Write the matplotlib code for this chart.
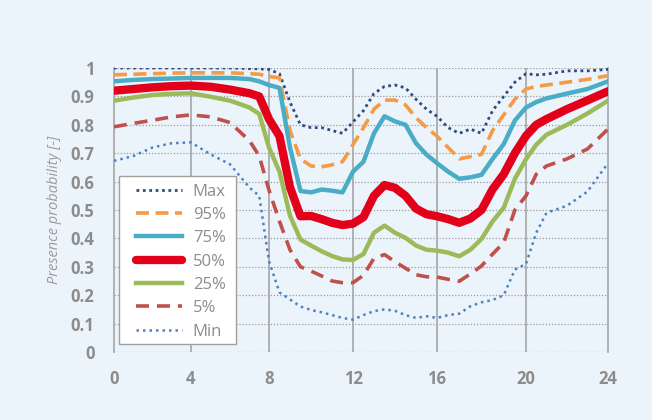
import numpy as np
import matplotlib as mpl
mpl.use('Agg')
import matplotlib.pyplot as plt
from matplotlib.patches import Rectangle

# hour of day
hours = [0, 1, 2, 3, 4, 5, 6, 7, 7.5, 8, 8.5, 9, 9.5, 10, 10.5, 11, 11.5, 12, 12.5,
         13, 13.5, 14, 14.5, 15, 15.5, 16, 16.5, 17, 17.5, 18, 18.5, 19, 19.5, 20,
         20.5, 21, 22, 23, 24]

p_max = [1.0, 1.0, 1.0, 1.0, 1.0, 1.0, 1.0, 0.998, 0.997, 0.995, 0.98, 0.88, 0.80, 0.79,
         0.79, 0.78, 0.77, 0.81, 0.85, 0.91, 0.935, 0.94, 0.93, 0.89, 0.855, 0.83, 0.79,
         0.77, 0.785, 0.77, 0.85, 0.90, 0.95, 0.98, 0.976, 0.978, 0.99, 0.99, 0.995]
p_95 = [0.976, 0.978, 0.98, 0.982, 0.983, 0.983, 0.983, 0.98, 0.978, 0.97, 0.965, 0.78,
        0.68, 0.655, 0.652, 0.659, 0.67, 0.73, 0.79, 0.855, 0.887, 0.887, 0.87, 0.825,
        0.79, 0.76, 0.72, 0.68, 0.688, 0.696, 0.78, 0.835, 0.89, 0.926, 0.935, 0.94,
        0.95, 0.96, 0.973]
p_75 = [0.953, 0.958, 0.961, 0.963, 0.965, 0.965, 0.965, 0.961, 0.953, 0.94, 0.93, 0.72,
        0.567, 0.562, 0.572, 0.568, 0.562, 0.635, 0.67, 0.77, 0.83, 0.812, 0.80, 0.735,
        0.695, 0.665, 0.635, 0.61, 0.615, 0.624, 0.68, 0.732, 0.815, 0.861, 0.88, 0.893,
        0.91, 0.926, 0.953]
p_50 = [0.92, 0.926, 0.932, 0.936, 0.938, 0.934, 0.924, 0.911, 0.90, 0.82, 0.76, 0.58,
        0.478, 0.479, 0.468, 0.455, 0.447, 0.452, 0.475, 0.55, 0.588, 0.578, 0.55, 0.505,
        0.485, 0.478, 0.468, 0.455, 0.47, 0.50, 0.573, 0.626, 0.70, 0.761, 0.80, 0.82,
        0.855, 0.886, 0.918]
p_25 = [0.885, 0.896, 0.905, 0.909, 0.911, 0.899, 0.885, 0.861, 0.838, 0.72, 0.635, 0.48,
        0.396, 0.375, 0.355, 0.338, 0.326, 0.324, 0.345, 0.42, 0.445, 0.42, 0.402, 0.375,
        0.36, 0.357, 0.35, 0.337, 0.36, 0.398, 0.46, 0.508, 0.61, 0.679, 0.73, 0.765,
        0.80, 0.84, 0.885]
p_5 = [0.793, 0.805, 0.816, 0.828, 0.835, 0.828, 0.808, 0.744, 0.69, 0.57, 0.46, 0.36,
       0.30, 0.285, 0.268, 0.25, 0.244, 0.244, 0.27, 0.33, 0.343, 0.318, 0.295, 0.272,
       0.265, 0.264, 0.256, 0.249, 0.275, 0.303, 0.345, 0.385, 0.50, 0.55, 0.626, 0.655,
       0.68, 0.715, 0.785]
p_min = [0.673, 0.69, 0.72, 0.735, 0.738, 0.696, 0.661, 0.579, 0.55, 0.32, 0.21, 0.185,
         0.16, 0.148, 0.14, 0.13, 0.12, 0.114, 0.13, 0.144, 0.15, 0.145, 0.13, 0.12,
         0.126, 0.12, 0.13, 0.135, 0.161, 0.175, 0.183, 0.2, 0.29, 0.31, 0.42, 0.49,
         0.515, 0.565, 0.665]

x_ticks = [0, 4, 8, 12, 16, 20, 24]
y_ticks = [0, 0.1, 0.2, 0.3, 0.4, 0.5, 0.6, 0.7, 0.8, 0.9, 1]
y_ticklabels = ['0', '0.1', '0.2', '0.3', '0.4', '0.5', '0.6', '0.7', '0.8', '0.9', '1']

# the source chart's hour axis is not evenly spaced
tick_pos = [0, 77, 155, 239, 323, 412, 494]

bg = '#ECF4FB'
grey = '#8C8C8C'
W, H = 652, 420

fig = plt.figure(figsize=(6.52, 4.2), dpi=100, facecolor=bg)
ax = fig.add_axes([0.1748, 0.1619, 0.7577, 0.6762])
ax.set_facecolor(bg)

ax.set_xscale('function', functions=(lambda x: np.interp(x, x_ticks, tick_pos),
                                     lambda x: np.interp(x, tick_pos, x_ticks)))

series = [
    ('Max', p_max, dict(color='#2F4B7C', lw=2.0, ls=(0, (1, 1.3)))),
    ('95%', p_95, dict(color='#F79A46', lw=2.6, ls=(0, (3.6, 1.8)))),
    ('75%', p_75, dict(color='#4BACC6', lw=3.2, ls='-')),
    ('50%', p_50, dict(color='#E2001A', lw=6.0, ls='-', solid_capstyle='round')),
    ('25%', p_25, dict(color='#9BBB59', lw=3.2, ls='-')),
    ('5%', p_5, dict(color='#C0504D', lw=2.6, ls=(0, (3.6, 2.2)))),
    ('Min', p_min, dict(color='#4F81BD', lw=1.8, ls=(0, (1, 1.6)))),
]
for name, vals, st in series:
    ax.plot(hours, vals, label=name, zorder=3, **st)

ax.set_xlim(0, 24)
ax.set_ylim(0, 1)
ax.set_xticks(x_ticks)
ax.set_yticks(y_ticks)
ax.set_yticklabels(y_ticklabels)

for y in y_ticks:
    ax.axhline(y, color='#9A9A9A', lw=0.9, ls=(0, (1, 1.5)), zorder=1)
for x in x_ticks[1:-1]:
    ax.axvline(x, color='#A5A5A5', lw=1.2, zorder=1)

for s in ['top', 'bottom']:
    ax.spines[s].set_visible(False)
ax.spines['left'].set_color('#A5A5A5')
ax.spines['right'].set_color('#A5A5A5')
ax.spines['left'].set_linewidth(1.2)
ax.spines['right'].set_linewidth(1.2)

ax.tick_params(length=0, labelsize=12, labelcolor=grey)
ax.tick_params(axis='x', pad=13)
ax.tick_params(axis='y', pad=14)
plt.setp(ax.get_xticklabels(), weight='bold', family='Open Sans')
plt.setp(ax.get_yticklabels(), weight='bold', family='Open Sans')

ax.set_ylabel('Presence probability [-]', style='italic', color='#9A9A9A',
              fontsize=10.5, family='Open Sans', labelpad=6)

# legend box drawn separately so the inner padding can differ per side
box = Rectangle((119 / W, 1 - 344 / H), 117 / W, 168 / H, transform=fig.transFigure,
                facecolor='white', edgecolor='#A0A0A0', lw=1.0, zorder=4)
ax.add_artist(box)
box.set_clip_on(False)

leg = ax.legend(loc='upper left', bbox_to_anchor=(136 / W, 1 - 183.5 / H),
                bbox_transform=fig.transFigure, frameon=False,
                fontsize=12, handlelength=2.75, labelspacing=0.44,
                borderpad=0, handletextpad=0.66, borderaxespad=0)
leg.set_zorder(5)
for t in leg.get_texts():
    t.set_color(grey)
    t.set_family('Open Sans')

plt.savefig('out.png', dpi=100, facecolor=bg)
